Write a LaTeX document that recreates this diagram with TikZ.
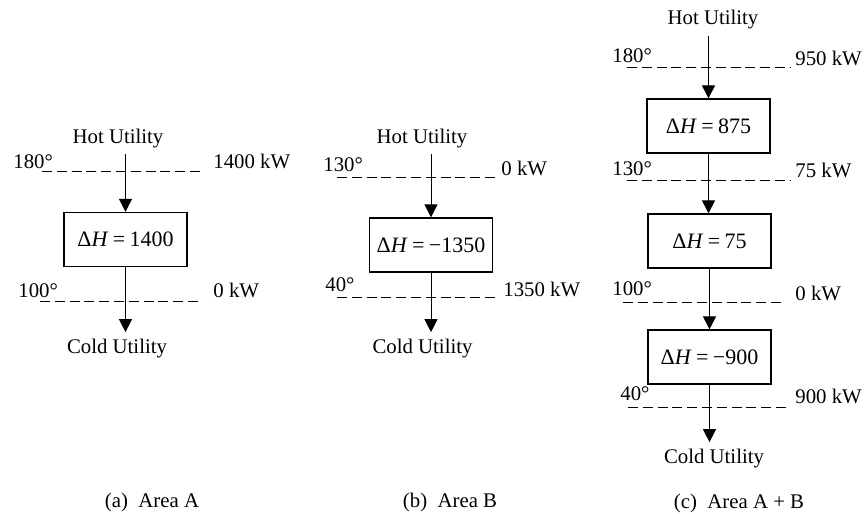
\documentclass[tikz,border=0pt]{standalone}
\usepackage{fontspec}
\setmainfont{Liberation Serif}
\usepackage{tikz}
\usetikzlibrary{arrows.meta,positioning}

\newcommand{\dH}[1]{Δ\textit{H}\hspace{0.2em}=\hspace{0.2em}#1}

\tikzset{
  util/.style={inner sep=3pt, anchor=base},
  blk/.style={draw, line width=0.65pt, minimum width=61.5pt, minimum height=27pt, inner sep=0pt,
    font=\fontsize{11}{13}\selectfont},
  flow/.style={-{Triangle[width=6.5pt,length=6.5pt]}, line width=0.5pt},
  lvl/.style={dash pattern=on 5pt off 2.4pt, line width=0.5pt},
  lbl/.style={anchor=base west, inner sep=0pt},
  subcap/.style={anchor=base, inner sep=0pt}
}

\begin{document}
\begin{tikzpicture}[x=0.5pt, y=-0.5pt, font=\fontsize{10.4}{12}\selectfont]
\useasboundingbox (0,0) rectangle (864,514);

% (a) Area A
\node[util] (hotA) at (118,143) {Hot Utility};
\node[blk] (boxA) at (125.5,239.5) {\dH{1400}};
\node[util] (coldA) at (117,353) {Cold Utility};
\coordinate (a1l) at (42,171);  \coordinate (a1r) at (203,171);
\coordinate (a2l) at (40,301);  \coordinate (a2r) at (202,301);
\draw[lvl] (a1l) -- (a1r);
\draw[lvl] (a2l) -- (a2r);
\node[lbl] (tA1) at (13,168) {180°};
\node[lbl] (qA1) at (213,169) {1400 kW};
\node[lbl] (tA2) at (18,297) {100°};
\node[lbl] (qA2) at (213,297) {0 kW};
\draw[flow] (boxA.north |- hotA.south) -- (boxA.north);
\draw[flow] (boxA.south) -- (boxA.south |- coldA.north);
\node[subcap] (capA) at (152,507) {(a)\enspace Area A};

% (b) Area B
\node[util] (hotB) at (422,143) {Hot Utility};
\node[blk] (boxB) at (431,245) {\dH{−1350}};
\node[util] (coldB) at (422.5,353) {Cold Utility};
\coordinate (b1l) at (337,177); \coordinate (b1r) at (498,177);
\coordinate (b2l) at (337,297); \coordinate (b2r) at (498,297);
\draw[lvl] (b1l) -- (b1r);
\draw[lvl] (b2l) -- (b2r);
\node[lbl] (tB1) at (323,171) {130°};
\node[lbl] (qB1) at (501,176) {0 kW};
\node[lbl] (tB2) at (325,291) {40°};
\node[lbl] (qB2) at (503,296) {1350 kW};
\draw[flow] (boxB.north |- hotB.south) -- (boxB.north);
\draw[flow] (boxB.south) -- (boxB.south |- coldB.north);
\node[subcap] (capB) at (450,507) {(b)\enspace Area B};

% (c) Area A + B
\node[util] (hotC) at (713,25) {Hot Utility};
\node[blk] (boxC1) at (708.5,126) {\dH{875}};
\node[blk] (boxC2) at (709.5,241) {\dH{75}};
\node[blk] (boxC3) at (709.5,357) {\dH{−900}};
\node[util] (coldC) at (714,463) {Cold Utility};
\coordinate (c1l) at (627,67);  \coordinate (c1r) at (790,67);
\coordinate (c2l) at (627,180); \coordinate (c2r) at (790,180);
\coordinate (c3l) at (623,302); \coordinate (c3r) at (785,302);
\coordinate (c4l) at (628,407); \coordinate (c4r) at (790,407);
\draw[lvl] (c1l) -- (c1r);
\draw[lvl] (c2l) -- (c2r);
\draw[lvl] (c3l) -- (c3r);
\draw[lvl] (c4l) -- (c4r);
\node[lbl] (tC1) at (612,62) {180°};
\node[lbl] (qC1) at (795,66) {950 kW};
\node[lbl] (tC2) at (612,175) {130°};
\node[lbl] (qC2) at (795,177) {75 kW};
\node[lbl] (tC3) at (612,295) {100°};
\node[lbl] (qC3) at (795,300) {0 kW};
\node[lbl] (tC4) at (620,400) {40°};
\node[lbl] (qC4) at (795,403) {900 kW};
\draw[flow] (boxC1.north |- hotC.south) -- (boxC1.north);
\draw[flow] (boxC1.south) -- (boxC2.north -| boxC1.south);
\draw[flow] (boxC2.south) -- (boxC3.north);
\draw[flow] (boxC3.south) -- (boxC3.south |- coldC.north);
\node[subcap] (capC) at (739,508) {(c)\enspace Area A + B};
\end{tikzpicture}
\end{document}
